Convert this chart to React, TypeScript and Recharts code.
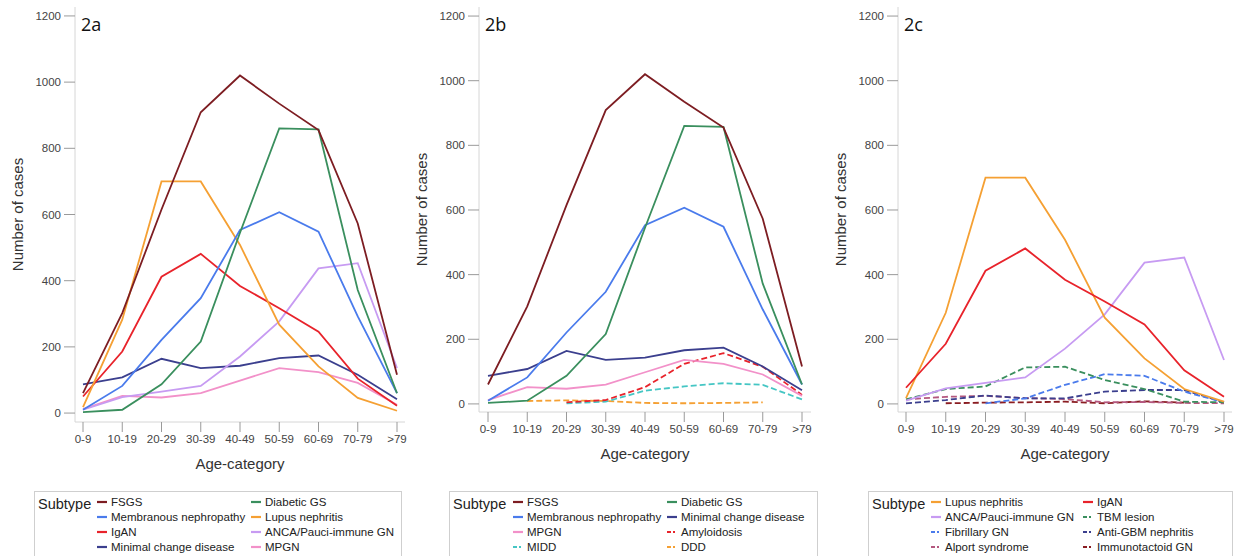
import React from "react"
import { LineChart, Line, XAxis, YAxis } from "recharts"

const ageGroups = ["0-9", "10-19", "20-29", "30-39", "40-49", "50-59", "60-69", "70-79", ">79"]
const yTicks = [0, 200, 400, 600, 800, 1000, 1200]

// cases per age category, one array per subtype
const fsgs = [60, 302, 615, 909, 1020, 935, 855, 573, 116]
const membranous = [10, 82, 221, 347, 553, 607, 548, 292, 60]
const igan = [50, 186, 412, 481, 384, 317, 246, 104, 22]
const minimalChange = [87, 108, 164, 136, 143, 166, 174, 116, 42]
const diabeticGs = [3, 10, 87, 216, 545, 860, 857, 372, 60]
const lupus = [18, 282, 700, 700, 508, 267, 141, 46, 7]
const anca = [10, 48, 65, 82, 171, 277, 437, 453, 136]
const mpgn = [12, 52, 47, 60, 98, 136, 124, 91, 25]
const amyloidosis = [null, null, 5, 12, 52, 124, 157, 115, 28]
const midd = [null, null, 2, 7, 41, 54, 64, 59, 14]
const ddd = [null, 9, 11, 9, 3, 2, 3, 5, null]
const tbmLesion = [14, 46, 54, 113, 115, 74, 46, 7, 5]
const fibrillaryGn = [null, null, 2, 17, 59, 92, 87, 38, 5]
const antiGbm = [2, 12, 26, 17, 17, 38, 43, 43, 5]
const alport = [14, 22, 25, 18, 15, 5, 6, 3, 2]
const immunotactoid = [null, 2, 4, 5, 7, 2, 8, 4, null]

type Series = { name: string; key: string; values: (number | null)[]; color: string; dashed?: boolean }

const C = {
  fsgs: "#7d1d22",
  membranous: "#4a7bec",
  igan: "#e8232b",
  minimal: "#3b3f8e",
  diabetic: "#3a8f5e",
  lupus: "#f5a033",
  anca: "#c79bf2",
  mpgn: "#f291c9",
  midd: "#45c6c4",
  alport: "#b4587f",
  immuno: "#8a1d22",
}

const seriesA: Series[] = [
  { name: "FSGS", key: "fsgs", values: fsgs, color: C.fsgs },
  { name: "Membranous nephropathy", key: "membranous", values: membranous, color: C.membranous },
  { name: "IgAN", key: "igan", values: igan, color: C.igan },
  { name: "Minimal change disease", key: "minimal", values: minimalChange, color: C.minimal },
  { name: "Diabetic GS", key: "diabetic", values: diabeticGs, color: C.diabetic },
  { name: "Lupus nephritis", key: "lupus", values: lupus, color: C.lupus },
  { name: "ANCA/Pauci-immune GN", key: "anca", values: anca, color: C.anca },
  { name: "MPGN", key: "mpgn", values: mpgn, color: C.mpgn },
]

const seriesB: Series[] = [
  { name: "FSGS", key: "fsgs", values: fsgs, color: C.fsgs },
  { name: "Membranous nephropathy", key: "membranous", values: membranous, color: C.membranous },
  { name: "MPGN", key: "mpgn", values: mpgn, color: C.mpgn },
  { name: "MIDD", key: "midd", values: midd, color: C.midd, dashed: true },
  { name: "Diabetic GS", key: "diabetic", values: diabeticGs, color: C.diabetic },
  { name: "Minimal change disease", key: "minimal", values: minimalChange, color: C.minimal },
  { name: "Amyloidosis", key: "amyloidosis", values: amyloidosis, color: C.igan, dashed: true },
  { name: "DDD", key: "ddd", values: ddd, color: C.lupus, dashed: true },
]

const seriesC: Series[] = [
  { name: "Lupus nephritis", key: "lupus", values: lupus, color: C.lupus },
  { name: "ANCA/Pauci-immune GN", key: "anca", values: anca, color: C.anca },
  { name: "Fibrillary GN", key: "fibrillary", values: fibrillaryGn, color: C.membranous, dashed: true },
  { name: "Alport syndrome", key: "alport", values: alport, color: C.alport, dashed: true },
  { name: "IgAN", key: "igan", values: igan, color: C.igan },
  { name: "TBM lesion", key: "tbm", values: tbmLesion, color: C.diabetic, dashed: true },
  { name: "Anti-GBM nephritis", key: "antigbm", values: antiGbm, color: C.minimal, dashed: true },
  { name: "Immunotactoid GN", key: "immuno", values: immunotactoid, color: C.immuno, dashed: true },
]

const FONT = "Arial, 'Liberation Sans', sans-serif"
const FRAME = "#d6d6d6"
const TICK = "#9a9a9a"

type PanelProps = {
  label: string
  series: Series[]
  // z-order of lines (bottom first)
  drawOrder: string[]
  left: number
  width: number
  height: number
  axisWidth: number
  marginRight: number
  domain: [number, number]
  padX: number
}

function Panel(p: PanelProps) {
  const data = ageGroups.map((age, i) => {
    const row: Record<string, string | number | null> = { age }
    p.series.forEach((s) => (row[s.key] = s.values[i]))
    return row
  })
  const ordered = p.drawOrder.map((k) => p.series.find((s) => s.key === k)!)

  return (
    <div style={{ position: "absolute", left: p.left, top: 0 }}>
      <LineChart
        width={p.width}
        height={p.height}
        data={data}
        margin={{ top: 7, right: p.marginRight, left: 0, bottom: 0 }}
      >
        <XAxis
          dataKey="age"
          height={58}
          padding={{ left: p.padX, right: p.padX }}
          tickSize={10}
          tickMargin={3}
          interval={0}
          axisLine={{ stroke: FRAME }}
          tickLine={{ stroke: TICK }}
          tick={{ fill: "#444", fontSize: 11.5, fontFamily: FONT }}
          label={{
            value: "Age-category",
            content: (props: any) => {
              const vb = props.viewBox
              return (
                <text x={vb.x + vb.width / 2} y={vb.y + 43} textAnchor="middle" dominantBaseline="middle"
                  fill="#333" fontSize={15} fontFamily={FONT}>
                  Age-category
                </text>
              )
            },
          }}
        />
        <XAxis xAxisId="top" orientation="top" dataKey="age" height={0} tick={false} tickLine={false}
          padding={{ left: p.padX, right: p.padX }} axisLine={{ stroke: FRAME }} />
        <YAxis
          width={p.axisWidth}
          domain={p.domain}
          ticks={yTicks}
          allowDataOverflow
          tickSize={11}
          tickMargin={3}
          axisLine={{ stroke: FRAME }}
          tickLine={{ stroke: TICK }}
          tick={{ fill: "#444", fontSize: 11.5, fontFamily: FONT }}
          label={{
            value: "Number of cases",
            content: (props: any) => {
              const vb = props.viewBox
              const x = vb.x + vb.width - 56
              const y = vb.y + vb.height / 2
              return (
                <text x={x} y={y} transform={`rotate(-90 ${x} ${y})`} textAnchor="middle" dominantBaseline="middle"
                  fill="#333" fontSize={15} fontFamily={FONT}>
                  Number of cases
                </text>
              )
            },
          }}
        />
        <YAxis yAxisId="right" orientation="right" width={0} domain={p.domain} tick={false} tickLine={false}
          axisLine={{ stroke: FRAME }} />
        {ordered.map((s) => (
          <Line
            key={s.key}
            type="linear"
            dataKey={s.key}
            name={s.name}
            stroke={s.color}
            strokeWidth={1.8}
            strokeDasharray={s.dashed ? "6 3" : undefined}
            dot={false}
            activeDot={false}
            isAnimationActive={false}
          />
        ))}
      </LineChart>
      <div
        style={{
          position: "absolute",
          left: p.axisWidth + 6,
          top: 12,
          fontFamily: "'Open Sans', 'Noto Sans', sans-serif",
          fontSize: 18,
          color: "#111",
        }}
      >
        {p.label}
      </div>
    </div>
  )
}

function LegendBox({ series, left, width, textLeft1, textLeft2 }: {
  series: Series[]; left: number; width: number; textLeft1: number; textLeft2: number
}) {
  const top = 491
  const rows = [501, 516, 531, 546]
  return (
    <div
      style={{
        position: "absolute",
        left,
        top,
        width,
        height: 80,
        border: "1px solid #cfcfcf",
        boxSizing: "border-box",
        fontFamily: FONT,
        color: "#222",
      }}
    >
      <div style={{ position: "absolute", left: 3, top: 4, fontSize: 14.5 }}>Subtype</div>
      {series.map((s, i) => {
        const col = (i < 4 ? textLeft1 : textLeft2) - left
        const y = rows[i % 4] - top
        return (
          <div key={s.key} style={{ position: "absolute", left: col - 14, top: y - 8, height: 16, display: "flex", alignItems: "center", whiteSpace: "nowrap" }}>
            <svg width={10} height={6} style={{ marginRight: 4 }}>
              <line x1={0} y1={3} x2={10} y2={3} stroke={s.color} strokeWidth={2.2}
                strokeDasharray={s.dashed ? "4 2 2 2" : undefined} />
            </svg>
            <span style={{ fontSize: 11.5 }}>{s.name}</span>
          </div>
        )
      })}
    </div>
  )
}

export default function App() {
  return (
    <div style={{ position: "absolute", left: 0, top: 0, width: 1238, height: 556, background: "#fff", overflow: "hidden" }}>
      <Panel
        label="2a"
        series={seriesA}
        drawOrder={["mpgn", "minimal", "anca", "igan", "lupus", "membranous", "diabetic", "fsgs"]}
        left={0}
        width={420}
        height={480}
        axisWidth={75}
        marginRight={15}
        domain={[-27, 1227]}
        padX={8}
      />
      <Panel
        label="2b"
        series={seriesB}
        drawOrder={["ddd", "midd", "amyloidosis", "mpgn", "minimal", "membranous", "diabetic", "fsgs"]}
        left={410}
        width={420}
        height={470}
        axisWidth={69}
        marginRight={19}
        domain={[-25, 1228]}
        padX={9}
      />
      <Panel
        label="2c"
        series={seriesC}
        drawOrder={["immuno", "alport", "antigbm", "fibrillary", "tbm", "anca", "lupus", "igan"]}
        left={820}
        width={418}
        height={470}
        axisWidth={78}
        marginRight={6}
        domain={[-25, 1228]}
        padX={8}
      />
      <LegendBox series={seriesA} left={34} width={368} textLeft1={110} textLeft2={264} />
      <LegendBox series={seriesB} left={449} width={369} textLeft1={526} textLeft2={680} />
      <LegendBox series={seriesC} left={868} width={365} textLeft1={944} textLeft2={1096} />
    </div>
  )
}
